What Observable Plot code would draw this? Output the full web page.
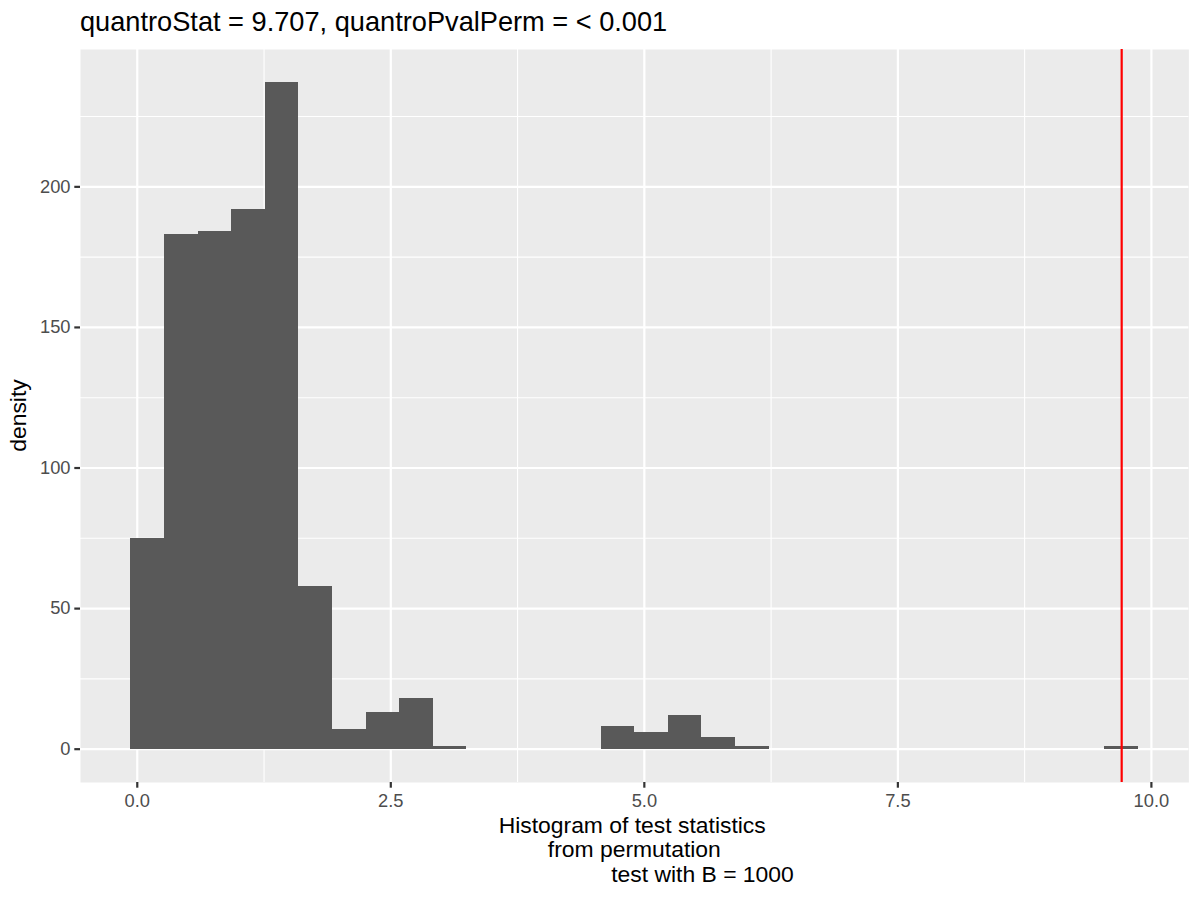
<!DOCTYPE html>
<html>
<head>
<meta charset="utf-8">
<script src="https://cdn.jsdelivr.net/npm/d3@7"></script>
<script src="https://cdn.jsdelivr.net/npm/@observablehq/plot@0.6"></script>
<style>
  html, body { margin: 0; padding: 0; background: #ffffff; }
  body { width: 1200px; height: 900px; overflow: hidden; font-family: "Liberation Sans", Arial, sans-serif; }
  #title { height: 48px; box-sizing: border-box; padding-top: 8px; padding-left: 80px; font-size: 27.2px; line-height: 27.5px; color: #000; white-space: pre; }
  #chart svg { display: block; }
</style>
</head>
<body>
<div id="title"></div>
<div id="chart"></div>
<script>
// ---- data ----
const titleText = "quantroStat = 9.707, quantroPvalPerm = < 0.001";
const yLabel = "density";
const xLabelLines = ["Histogram of test statistics", "from permutation", "test with B = 1000"];

// histogram bin edges (31 edges, 30 bins)
const binEdges = [-0.063, 0.269, 0.600, 0.931, 1.262, 1.593, 1.924, 2.256, 2.587, 2.918,
                  3.249, 3.580, 3.911, 4.243, 4.574, 4.905, 5.236, 5.567, 5.898, 6.230,
                  6.561, 6.892, 7.223, 7.554, 7.886, 8.217, 8.548, 8.879, 9.210, 9.541, 9.873];
// counts per bin
const binCounts = [75, 183, 184, 192, 237, 58, 7, 13, 18, 1,
                   0, 0, 0, 0, 8, 6, 12, 4, 1, 0,
                   0, 0, 0, 0, 0, 0, 0, 0, 0, 1];
// observed statistic (red line)
const observedStat = [9.707];

const xMajorTicks = [0, 2.5, 5, 7.5, 10];
const xMinorTicks = [1.25, 3.75, 6.25, 8.75];
const yMajorTicks = [0, 50, 100, 150, 200];
const yMinorTicks = [25, 75, 125, 175, 225];

// ---- build table ----
const bins = binCounts.map((c, i) => ({x1: binEdges[i], x2: binEdges[i + 1], count: c}));

// ggplot-style 5% expansion
const [xmin, xmax] = d3.extent(binEdges);
const xpad = (xmax - xmin) * 0.05;
const ymaxData = d3.max(binCounts);
const ypad = ymaxData * 0.05;

const W = 1200, H = 852;
const mL = 80, mR = 11.6, mT = 1, mB = 118;

document.getElementById("title").textContent = titleText;

const plot = Plot.plot({
  width: W,
  height: H,
  marginLeft: mL,
  marginRight: mR,
  marginTop: mT,
  marginBottom: mB,
  style: {fontFamily: '"Liberation Sans", Arial, sans-serif', background: "#ffffff", overflow: "visible"},
  x: {domain: [xmin - xpad, xmax + xpad]},
  y: {domain: [0 - ypad, ymaxData + ypad]},
  marks: [
    Plot.frame({fill: "#EBEBEB"}),
    Plot.gridX(xMinorTicks, {stroke: "#FFFFFF", strokeOpacity: 1, strokeWidth: 1.1}),
    Plot.gridY(yMinorTicks, {stroke: "#FFFFFF", strokeOpacity: 1, strokeWidth: 1.1}),
    Plot.gridX(xMajorTicks, {stroke: "#FFFFFF", strokeOpacity: 1, strokeWidth: 2.2}),
    Plot.gridY(yMajorTicks, {stroke: "#FFFFFF", strokeOpacity: 1, strokeWidth: 2.2}),
    Plot.rectY(bins, {x1: "x1", x2: "x2", y: "count", fill: "#595959", shapeRendering: "crispEdges"}),
    Plot.ruleX(observedStat, {stroke: "#FF0000", strokeWidth: 2.2}),
    Plot.axisX(xMajorTicks, {tickFormat: d3.format(".1f"), tickSize: 5.7, tickPadding: 5.6,
      fontSize: 18.3, fill: "#4D4D4D", stroke: "#333333", strokeWidth: 2.2, label: null}),
    Plot.axisY(yMajorTicks, {tickFormat: d3.format("d"), tickSize: 5.7, tickPadding: 4.3,
      fontSize: 18.3, fill: "#4D4D4D", stroke: "#333333", strokeWidth: 2.2, label: null})
  ]
});

document.getElementById("chart").appendChild(plot);

// axis titles
const svg = d3.select(plot);
svg.append("text")
  .attr("transform", `translate(26, ${mT + (H - mT - mB) / 2}) rotate(-90)`)
  .attr("text-anchor", "middle")
  .attr("font-size", 22.9)
  .attr("fill", "#000000")
  .text(yLabel);

const xLabelCenters = [632.2, 634.3, 702.5];
const xLabelBaselines = [784.5, 809, 833.5];
xLabelLines.forEach((line, i) => {
  svg.append("text")
    .attr("x", xLabelCenters[i])
    .attr("y", xLabelBaselines[i])
    .attr("text-anchor", "middle")
    .attr("font-size", 22.9)
    .attr("fill", "#000000")
    .text(line);
});
</script>
</body>
</html>
